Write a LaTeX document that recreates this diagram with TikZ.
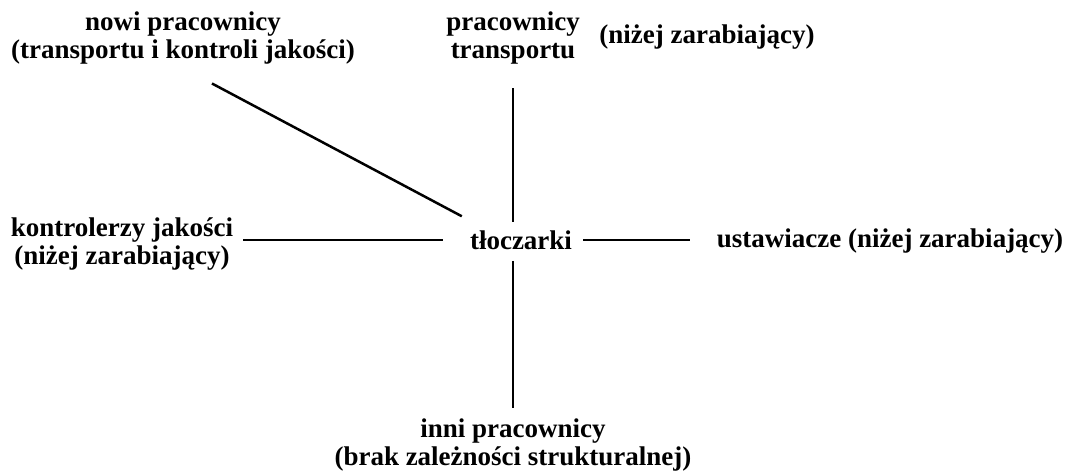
\documentclass[tikz,border=0pt]{standalone}
\usepackage{fontspec}
\setmainfont{Liberation Serif}
\usepackage{tikz}
\usetikzlibrary{positioning}

\begin{document}
\begin{tikzpicture}[x=1pt,y=-1pt,line width=2.5pt,
		lbl/.style={font=\bfseries\fontsize{27}{28}\selectfont,align=center,inner sep=0pt}]
		\useasboundingbox (0,0) rectangle (1068,471);
		% nodes
		\node[lbl] (tl) at (521,240) {tłoczarki};
		\node[lbl] (nowi) at (183,38) {nowi pracownicy\\(transportu i kontroli jakości)};
		\node[lbl] (trans) at (513,38) {pracownicy\\transportu};
		\node[lbl] (trnizej) at (707,37) {(niżej zarabiający)};
		\node[lbl] (kontr) at (122,244) {kontrolerzy jakości\\(niżej zarabiający)};
		\node[lbl] (ustaw) at (890,241) {ustawiacze (niżej zarabiający)};
		\node[lbl] (inni) at (513,445) {inni pracownicy\\(brak zależności strukturalnej)};
		% connectors
		\draw ([xshift=29pt,yshift=-18pt]nowi.south) -- ([xshift=-7pt,yshift=13pt]tl.north west);
		\draw ([yshift=-23pt]trans.south) -- ([yshift=7pt]trans.south |- tl.north);
		\draw ([yshift=-10pt]trans.south |- tl.south) -- ([yshift=10pt]inni.north -| trans.south);
		\draw ([xshift=9pt]kontr.east |- tl.west) -- ([xshift=-26pt]tl.west);
		\draw ([xshift=10pt]tl.east) -- ([xshift=-26pt]ustaw.west |- tl.east);
	\end{tikzpicture}
\end{document}
